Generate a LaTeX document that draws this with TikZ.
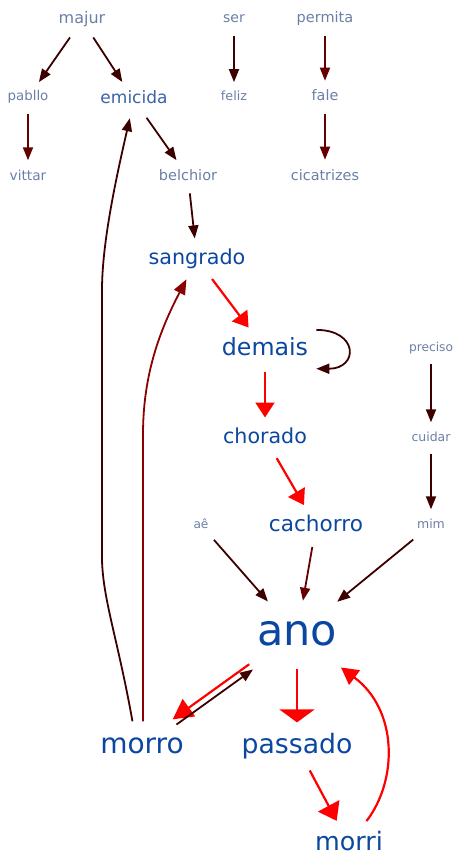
\documentclass[tikz,border=0pt]{standalone}
\usepackage{fontspec}
\setmainfont{DejaVu Sans}
\usetikzlibrary{arrows.meta}

\definecolor{wordlight}{HTML}{6B7FA6}
\definecolor{wordmid}{HTML}{3A62A6}
\definecolor{worddark}{HTML}{0B47A0}
\definecolor{linkdark}{HTML}{3D0000}
\definecolor{linkmid}{HTML}{640000}
\definecolor{linkdeep}{HTML}{8B0000}
\definecolor{linkred}{HTML}{FF0000}

\begin{document}
\begin{tikzpicture}[x=1pt, y=-1pt,
  word/.style={anchor=base, inner sep=5pt, font=\fontsize{#1}{#1}\selectfont,
    execute at begin node={\vrule height 0.84em depth 0.36em width 0pt}},
  wlight/.style={word=#1, text=wordlight},
  wmid/.style={word=#1, text=wordmid},
  wdark/.style={word=#1, text=worddark},
  link/.style={line width=1.8pt, shorten <=3pt, shorten >=3pt},
  darklink/.style={link, draw=linkdark, -{Triangle[length=13pt,width=10pt]}},
  midlink/.style={link, draw=linkmid, -{Triangle[length=13pt,width=10pt]}},
  deeplink/.style={link, draw=linkdeep, -{Triangle[length=15pt,width=12pt]}},
  redlink/.style={link, line width=2.2pt, draw=linkred, -{Triangle[length=15pt,width=19pt]}}]

 \useasboundingbox (0,0) rectangle (463,856);

 %top words
 \node[wlight=16]   (majur)      at (82,24)   {majur};
 \node[wlight=14]   (ser)        at (234,23)  {ser};
 \node[wlight=14.5] (permita)    at (325,23)  {permita};

 \node[wlight=13.4] (pabllo)     at (28,101)  {pabllo};
 \node[wmid=17]     (emicida)    at (134,104) {emicida};
 \node[wlight=12.7] (feliz)      at (234,101) {feliz};
 \node[wlight=14.4] (fale)       at (325,101) {fale};

 \node[wlight=13.7] (vittar)     at (28,180)  {vittar};
 \node[wlight=14.5] (belchior)   at (188,180) {belchior};
 \node[wlight=14.4] (cicatrizes) at (325,180) {cicatrizes};

 %middle chain
 \node[wdark=20.7]  (sangrado)   at (197,264) {sangrado};
 \node[wdark=23.7]  (demais)     at (265,355) {demais};
 \node[wlight=12.2] (preciso)    at (431,351.5) {preciso};
 \node[wdark=20.6]  (chorado)    at (265,443) {chorado};
 \node[wlight=12.5] (cuidar)     at (431,441) {cuidar};
 \node[wlight=12.2] (ae)         at (201,528) {aê};
 \node[wdark=21.6]  (cachorro)   at (316,531) {cachorro};
 \node[wlight=12.5] (mim)        at (431,528) {mim};

 %bottom
 \node[wdark=43]    (ano)        at (297,645) {ano};
 \node[wdark=28]    (morro)      at (142,753) {morro};
 \node[wdark=26.7]  (passado)    at (297,753) {passado};
 \node[wdark=25.4]  (morri)      at (349,850) {morri};

 %straight links
 \foreach \a/\b in {majur/pabllo, majur/emicida, ser/feliz, emicida/belchior,
                    belchior/sangrado, preciso/cuidar, cuidar/mim, ae/ano, mim/ano} {
     \draw[darklink] (\a) -- (\b);
 }
 \foreach \a/\b in {pabllo/vittar, permita/fale, fale/cicatrizes, cachorro/ano} {
     \draw[midlink] (\a) -- (\b);
 }
 \foreach \a/\b in {sangrado/demais, demais/chorado, chorado/cachorro} {
     \draw[redlink] (\a) -- (\b);
 }

 %loop
 \draw[darklink] (demais.north east) to[out=0, in=0, looseness=3] (demais.south east);

 %ano and morro
 \draw[redlink, -{Triangle[length=20pt,width=21pt]}, transform canvas={shift={(-2.3,-3.2)}}] (ano) -- (morro);
 \draw[darklink, transform canvas={shift={(1.5,2)}}] (morro) -- (ano);
 \draw[redlink, -{Triangle[length=13pt,width=35pt]}] (ano) -- (passado);
 \draw[redlink, -{Triangle[length=17pt,width=24pt]}] (passado) -- (morri);
 \draw[redlink, -{Triangle[length=17pt,width=18pt]}] (morri) .. controls (398,780) and (398,710) .. (ano);

 %long arcs
 \draw[darklink] ([xshift=-9pt]morro.north) .. controls (118,640) and (103,600) .. (102,560)
     -- (102,290) .. controls (102,240) and (118,170) .. (emicida);
 \draw[deeplink] ([xshift=1pt]morro.north) -- ++(0,-290) .. controls +(0,-60) and (160,330) .. (sangrado);

\end{tikzpicture}
\end{document}
